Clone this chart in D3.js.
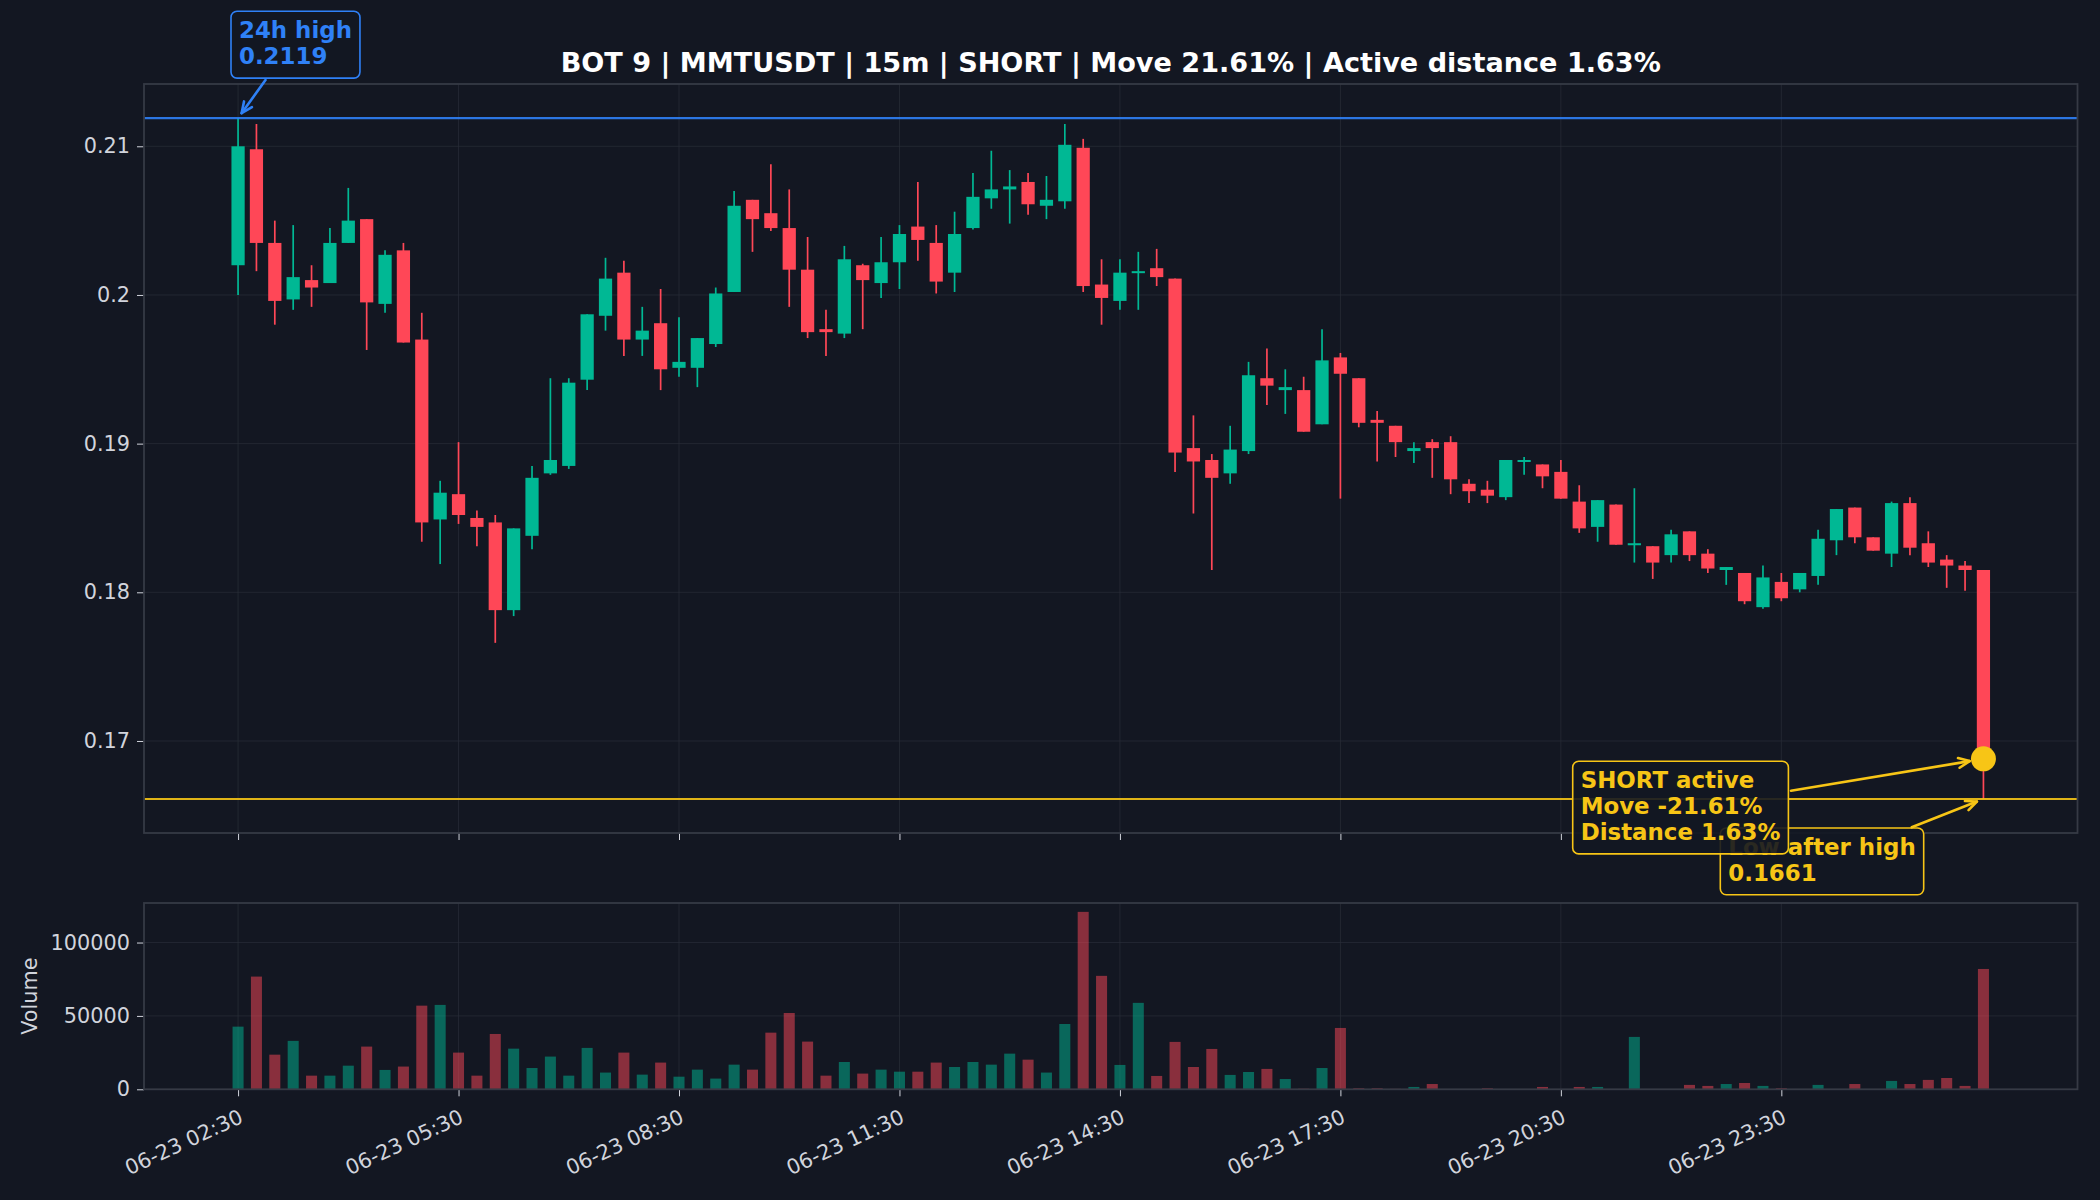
<!DOCTYPE html>
<html>
<head>
<meta charset="utf-8">
<script src="https://cdn.jsdelivr.net/npm/d3@7"></script>
<style>
body { margin: 0; background: #131722; }
svg { display: block; font-family: "DejaVu Sans", sans-serif; }
</style>
</head>
<body>
<div id="chart"></div>
<script>
// 15m candles, first one at 06-23 02:30
var startTime = "06-23 02:30";
var stepMinutes = 15;

var openP = [
    0.2020, 0.2098, 0.2035, 0.1997, 0.2010, 0.2008, 0.2035, 0.2051, 0.1994, 0.2030,
    0.1970, 0.1849, 0.1866, 0.1850, 0.1847, 0.1788, 0.1838, 0.1880, 0.1885, 0.1943,
    0.1986, 0.2015, 0.1970, 0.1981, 0.1951, 0.1951, 0.1967, 0.2002, 0.2064, 0.2055,
    0.2045, 0.2017, 0.1977, 0.1974, 0.2020, 0.2008, 0.2022, 0.2046, 0.2035, 0.2015,
    0.2045, 0.2065, 0.2071, 0.2076, 0.2060, 0.2063, 0.2099, 0.2007, 0.1996, 0.2015,
    0.2018, 0.2011, 0.1897, 0.1889, 0.1880, 0.1895, 0.1944, 0.1936, 0.1936, 0.1913,
    0.1958, 0.1944, 0.1916, 0.1912, 0.1895, 0.1901, 0.1901, 0.1873, 0.1869, 0.1864,
    0.1888, 0.1886, 0.1881, 0.1861, 0.1844, 0.1859, 0.1832, 0.1831, 0.1825, 0.1841,
    0.1826, 0.1815, 0.1813, 0.1790, 0.1807, 0.1802, 0.1811, 0.1835, 0.1857, 0.1837,
    0.1826, 0.1860, 0.1833, 0.1822, 0.1818, 0.1815
];
var highP = [
    0.2119, 0.2115, 0.2050, 0.2047, 0.2020, 0.2045, 0.2072, 0.2051, 0.2030, 0.2035,
    0.1988, 0.1875, 0.1901, 0.1855, 0.1852, 0.1843, 0.1885, 0.1944, 0.1944, 0.1987,
    0.2025, 0.2023, 0.1992, 0.2004, 0.1985, 0.1971, 0.2005, 0.2070, 0.2064, 0.2088,
    0.2071, 0.2039, 0.1990, 0.2033, 0.2021, 0.2039, 0.2047, 0.2076, 0.2047, 0.2056,
    0.2082, 0.2097, 0.2084, 0.2082, 0.2080, 0.2115, 0.2105, 0.2024, 0.2024, 0.2029,
    0.2031, 0.2011, 0.1919, 0.1893, 0.1912, 0.1955, 0.1964, 0.1950, 0.1945, 0.1977,
    0.1961, 0.1944, 0.1922, 0.1912, 0.1901, 0.1903, 0.1905, 0.1876, 0.1875, 0.1889,
    0.1891, 0.1886, 0.1889, 0.1872, 0.1862, 0.1859, 0.1870, 0.1831, 0.1842, 0.1841,
    0.1829, 0.1817, 0.1813, 0.1818, 0.1813, 0.1813, 0.1842, 0.1856, 0.1857, 0.1837,
    0.1861, 0.1864, 0.1841, 0.1825, 0.1821, 0.1815
];
var lowP = [
    0.2000, 0.2016, 0.1980, 0.1990, 0.1992, 0.2008, 0.2035, 0.1963, 0.1988, 0.1968,
    0.1834, 0.1819, 0.1846, 0.1831, 0.1766, 0.1784, 0.1829, 0.1879, 0.1883, 0.1936,
    0.1976, 0.1959, 0.1959, 0.1936, 0.1945, 0.1938, 0.1965, 0.2002, 0.2029, 0.2043,
    0.1992, 0.1971, 0.1959, 0.1971, 0.1977, 0.1998, 0.2004, 0.2023, 0.2001, 0.2002,
    0.2044, 0.2058, 0.2048, 0.2054, 0.2051, 0.2058, 0.2002, 0.1980, 0.1990, 0.1990,
    0.2006, 0.1881, 0.1853, 0.1815, 0.1873, 0.1893, 0.1926, 0.1920, 0.1908, 0.1913,
    0.1863, 0.1911, 0.1888, 0.1891, 0.1887, 0.1877, 0.1866, 0.1860, 0.1860, 0.1862,
    0.1879, 0.1870, 0.1863, 0.1840, 0.1834, 0.1832, 0.1820, 0.1809, 0.1820, 0.1821,
    0.1813, 0.1805, 0.1792, 0.1789, 0.1794, 0.1800, 0.1805, 0.1825, 0.1833, 0.1828,
    0.1817, 0.1825, 0.1817, 0.1803, 0.1801, 0.1661
];
var closeP = [
    0.2100, 0.2035, 0.1996, 0.2012, 0.2005, 0.2035, 0.2050, 0.1995, 0.2027, 0.1968,
    0.1847, 0.1867, 0.1852, 0.1844, 0.1788, 0.1843, 0.1877, 0.1889, 0.1941, 0.1987,
    0.2011, 0.1970, 0.1976, 0.1950, 0.1955, 0.1971, 0.2001, 0.2060, 0.2051, 0.2045,
    0.2017, 0.1975, 0.1975, 0.2024, 0.2010, 0.2022, 0.2041, 0.2037, 0.2009, 0.2041,
    0.2066, 0.2071, 0.2073, 0.2061, 0.2064, 0.2101, 0.2006, 0.1998, 0.2015, 0.2016,
    0.2012, 0.1894, 0.1888, 0.1877, 0.1896, 0.1946, 0.1939, 0.1938, 0.1908, 0.1956,
    0.1947, 0.1914, 0.1914, 0.1901, 0.1897, 0.1897, 0.1876, 0.1868, 0.1865, 0.1889,
    0.1889, 0.1878, 0.1863, 0.1843, 0.1862, 0.1832, 0.1833, 0.1820, 0.1839, 0.1825,
    0.1816, 0.1817, 0.1794, 0.1810, 0.1796, 0.1813, 0.1836, 0.1856, 0.1837, 0.1828,
    0.1860, 0.1830, 0.1820, 0.1818, 0.1815, 0.1688
];
var volume = [
    42700, 76800, 23600, 33000, 9300, 9300, 16100, 29100, 13200, 15500,
    57000, 57500, 25000, 9300, 37700, 27700, 14500, 22300, 9300, 28200,
    11400, 25000, 10000, 18200, 8600, 13400, 7300, 16800, 13400, 38600,
    52000, 32500, 9300, 18600, 10700, 13400, 12000, 12000, 18200, 15200,
    18600, 16800, 24300, 20200, 11400, 44500, 120900, 77300, 16600, 58900,
    9100, 32300, 15200, 27500, 9800, 11800, 13900, 7000, 400, 14500,
    41800, 700, 700, 300, 1600, 3600, 200, 200, 700, 200,
    200, 1600, 200, 1600, 1600, 200, 35700, 200, 200, 3000,
    2300, 3600, 4300, 2300, 700, 200, 3000, 200, 3600, 200,
    5700, 3600, 6400, 7700, 2300, 82000
];

var xTickLabels = ["06-23 02:30", "06-23 05:30", "06-23 08:30", "06-23 11:30",
                   "06-23 14:30", "06-23 17:30", "06-23 20:30", "06-23 23:30"];
var priceTicks = [0.17, 0.18, 0.19, 0.20, 0.21];
var priceTickLabels = ["0.17", "0.18", "0.19", "0.2", "0.21"];
var volumeTicks = [0, 50000, 100000];
var volumeTickLabels = ["0", "50000", "100000"];

var title = "BOT 9 | MMTUSDT | 15m | SHORT | Move 21.61% | Active distance 1.63%";
var highLevel = 0.2119;
var lowLevel = 0.1661;
var highNote = ["24h high", "0.2119"];
var shortNote = ["SHORT active", "Move -21.61%", "Distance 1.63%"];
var lowNote = ["Low after high", "0.1661"];

var W = 2100, H = 1200;
var BG = "#131722", UP = "#00b894", DOWN = "#ff4757";
var BLUE = "#2f81f7", YELLOW = "#f7c516", TEXT = "#d1d4dc";
var GRID = "#2a2e39", SPINE = "#363a45";
var FS = 20.8, XFS = 20.8, NOTE_FS = 22.9;

var priceBox = { left: 144, right: 2077.5, top: 84, bottom: 833 };
var volBox = { left: 144, right: 2077.5, top: 903, bottom: 1089.3 };

var parse = d3.timeParse("%m-%d %H:%M");
var t0 = parse(startTime);
var stepMs = stepMinutes * 60000;
var candles = openP.map(function (o, i) {
    return {
        i: i,
        t: new Date(t0.getTime() + i * stepMs),
        o: o, h: highP[i], l: lowP[i], c: closeP[i], v: volume[i],
        up: closeP[i] >= o
    };
});
var last = candles[candles.length - 1];

var x = d3.scaleTime()
    .domain([new Date(t0.getTime() - 5.12 * stepMs), new Date(last.t.getTime() + 5.12 * stepMs)])
    .range([priceBox.left, priceBox.right]);

var lo = d3.min(lowP), hi = d3.max(highP), padP = (hi - lo) * 0.05;
var y = d3.scaleLinear().domain([lo - padP, hi + padP]).range([priceBox.bottom, priceBox.top]);
var yv = d3.scaleLinear().domain([0, d3.max(volume) * 1.05]).range([volBox.bottom, volBox.top]);

var step = x(candles[1].t) - x(candles[0].t);
var tickDates = xTickLabels.map(function (s) { return parse(s); });

var svg = d3.select("#chart").append("svg")
    .attr("width", W).attr("height", H);
svg.append("rect").attr("width", W).attr("height", H).attr("fill", BG);

function panelFrame(box, yScale, ticks, labels) {
    var g = svg.append("g");
    // grid
    g.selectAll("line.gx").data(tickDates).enter().append("line")
        .attr("x1", function (d) { return x(d); }).attr("x2", function (d) { return x(d); })
        .attr("y1", box.top).attr("y2", box.bottom)
        .attr("stroke", GRID).attr("stroke-width", 1).attr("opacity", 0.7);
    g.selectAll("line.gy").data(ticks).enter().append("line")
        .attr("x1", box.left).attr("x2", box.right)
        .attr("y1", function (d) { return yScale(d); }).attr("y2", function (d) { return yScale(d); })
        .attr("stroke", GRID).attr("stroke-width", 1).attr("opacity", 0.7);

    var axL = svg.append("g").attr("transform", "translate(" + box.left + ",0)")
        .call(d3.axisLeft(yScale).tickValues(ticks).tickSize(7).tickPadding(7)
            .tickFormat(function (d, i) { return labels[i]; }));
    axL.select(".domain").remove();
    axL.selectAll("line").attr("stroke", TEXT);
    axL.selectAll("text").attr("fill", TEXT).style("font-size", FS + "px")
        .style("font-family", "DejaVu Sans");

    var axB = svg.append("g").attr("transform", "translate(0," + box.bottom + ")")
        .call(d3.axisBottom(x).tickValues(tickDates).tickSize(7).tickFormat(""));
    axB.select(".domain").remove();
    axB.selectAll("line").attr("stroke", TEXT);
    return g;
}

function spines(box) {
    svg.append("rect")
        .attr("x", box.left).attr("y", box.top)
        .attr("width", box.right - box.left).attr("height", box.bottom - box.top)
        .attr("fill", "none").attr("stroke", SPINE).attr("stroke-width", 1.8);
}

panelFrame(priceBox, y, priceTicks, priceTickLabels);
panelFrame(volBox, yv, volumeTicks, volumeTickLabels);

// candles
var bodyW = step * 0.72;
var cg = svg.append("g");
cg.selectAll("line.wick").data(candles).enter().append("line")
    .attr("x1", function (d) { return x(d.t); }).attr("x2", function (d) { return x(d.t); })
    .attr("y1", function (d) { return y(d.h); }).attr("y2", function (d) { return y(d.l); })
    .attr("stroke", function (d) { return d.up ? UP : DOWN; })
    .attr("stroke-width", 1.7);
cg.selectAll("rect.body").data(candles).enter().append("rect")
    .attr("x", function (d) { return x(d.t) - bodyW / 2; })
    .attr("width", bodyW)
    .attr("y", function (d) { return y(Math.max(d.o, d.c)); })
    .attr("height", function (d) { return Math.max(2, Math.abs(y(d.o) - y(d.c))); })
    .attr("fill", function (d) { return d.up ? UP : DOWN; });

// volume bars
var barW = step * 0.6;
svg.append("g").selectAll("rect").data(candles).enter().append("rect")
    .attr("x", function (d) { return x(d.t) - barW / 2; })
    .attr("width", barW)
    .attr("y", function (d) { return yv(d.v); })
    .attr("height", function (d) { return yv(0) - yv(d.v); })
    .attr("fill", function (d) { return d.up ? UP : DOWN; })
    .attr("opacity", 0.5);

// level lines
svg.append("line")
    .attr("x1", priceBox.left).attr("x2", priceBox.right)
    .attr("y1", y(highLevel)).attr("y2", y(highLevel))
    .attr("stroke", BLUE).attr("stroke-width", 2.2).attr("opacity", 0.9);
svg.append("line")
    .attr("x1", priceBox.left).attr("x2", priceBox.right)
    .attr("y1", y(lowLevel)).attr("y2", y(lowLevel))
    .attr("stroke", YELLOW).attr("stroke-width", 2).attr("opacity", 0.9);

spines(priceBox);
spines(volBox);

// x tick labels on the volume panel
svg.append("g").selectAll("text").data(tickDates).enter().append("text")
    .attr("transform", function (d) { return "translate(" + x(d) + "," + (volBox.bottom + 19) + ") rotate(-25)"; })
    .attr("text-anchor", "end")
    .attr("dy", "0.72em")
    .attr("fill", TEXT)
    .style("font-size", XFS + "px")
    .text(function (d, i) { return xTickLabels[i]; });

svg.append("text")
    .attr("transform", "translate(37," + ((volBox.top + volBox.bottom) / 2) + ") rotate(-90)")
    .attr("text-anchor", "middle")
    .attr("fill", TEXT)
    .style("font-size", FS + "px")
    .text("Volume");

// title
svg.append("text")
    .attr("x", (priceBox.left + priceBox.right) / 2).attr("y", 71.7)
    .attr("text-anchor", "middle")
    .attr("fill", "#ffffff")
    .style("font-size", "27.1px").style("font-weight", "bold")
    .text(title);

// annotations
function arrow(x1, y1, x2, y2, shrink, color) {
    var dx = x2 - x1, dy = y2 - y1, len = Math.sqrt(dx * dx + dy * dy);
    var ux = dx / len, uy = dy / len;
    var tx = x2 - ux * shrink, ty = y2 - uy * shrink;
    var hs = 12, a = 0.42;
    var g = svg.append("g").attr("stroke", color).attr("stroke-width", 2.6)
        .attr("fill", "none").attr("stroke-linecap", "round").attr("stroke-linejoin", "round");
    g.append("line").attr("x1", x1).attr("y1", y1).attr("x2", tx).attr("y2", ty);
    function wing(sign) {
        var c = Math.cos(sign * a), s = Math.sin(sign * a);
        var bx = -(ux * c - uy * s), by = -(ux * s + uy * c);
        return [tx + bx * hs, ty + by * hs];
    }
    var w1 = wing(1), w2 = wing(-1);
    g.append("path").attr("d", "M" + w1[0] + "," + w1[1] + "L" + tx + "," + ty + "L" + w2[0] + "," + w2[1]);
}

function noteBox(lines, left, baseline, color) {
    var g = svg.append("g");
    var rect = g.append("rect");
    var txt = g.append("text")
        .attr("fill", color)
        .style("font-size", NOTE_FS + "px").style("font-weight", "bold");
    lines.forEach(function (s, i) {
        txt.append("tspan").attr("x", left).attr("y", baseline + i * 25.8).text(s);
    });
    var bb = txt.node().getBBox();
    var pad = 8;
    rect.attr("x", bb.x - pad).attr("y", bb.y - pad + 2)
        .attr("width", bb.width + 2 * pad).attr("height", bb.height + 2 * pad - 1)
        .attr("rx", 6).attr("ry", 6)
        .attr("fill", BG).attr("fill-opacity", 0.9)
        .attr("stroke", color).attr("stroke-width", 1.6);
    return g;
}

noteBox(highNote, 239, 38.3, BLUE);
arrow(265.5, 80, x(candles[0].t), y(highLevel), 6, BLUE);

noteBox(lowNote, 1728.3, 855, YELLOW);
arrow(1911.7, 827.3, x(last.t), y(lowLevel), 7, YELLOW);

noteBox(shortNote, 1580.7, 788.3, YELLOW);
arrow(1791, 790.7, x(last.t), y(last.c), 14, YELLOW);

svg.append("circle")
    .attr("cx", x(last.t)).attr("cy", y(last.c)).attr("r", 12.5)
    .attr("fill", YELLOW);
</script>
</body>
</html>
